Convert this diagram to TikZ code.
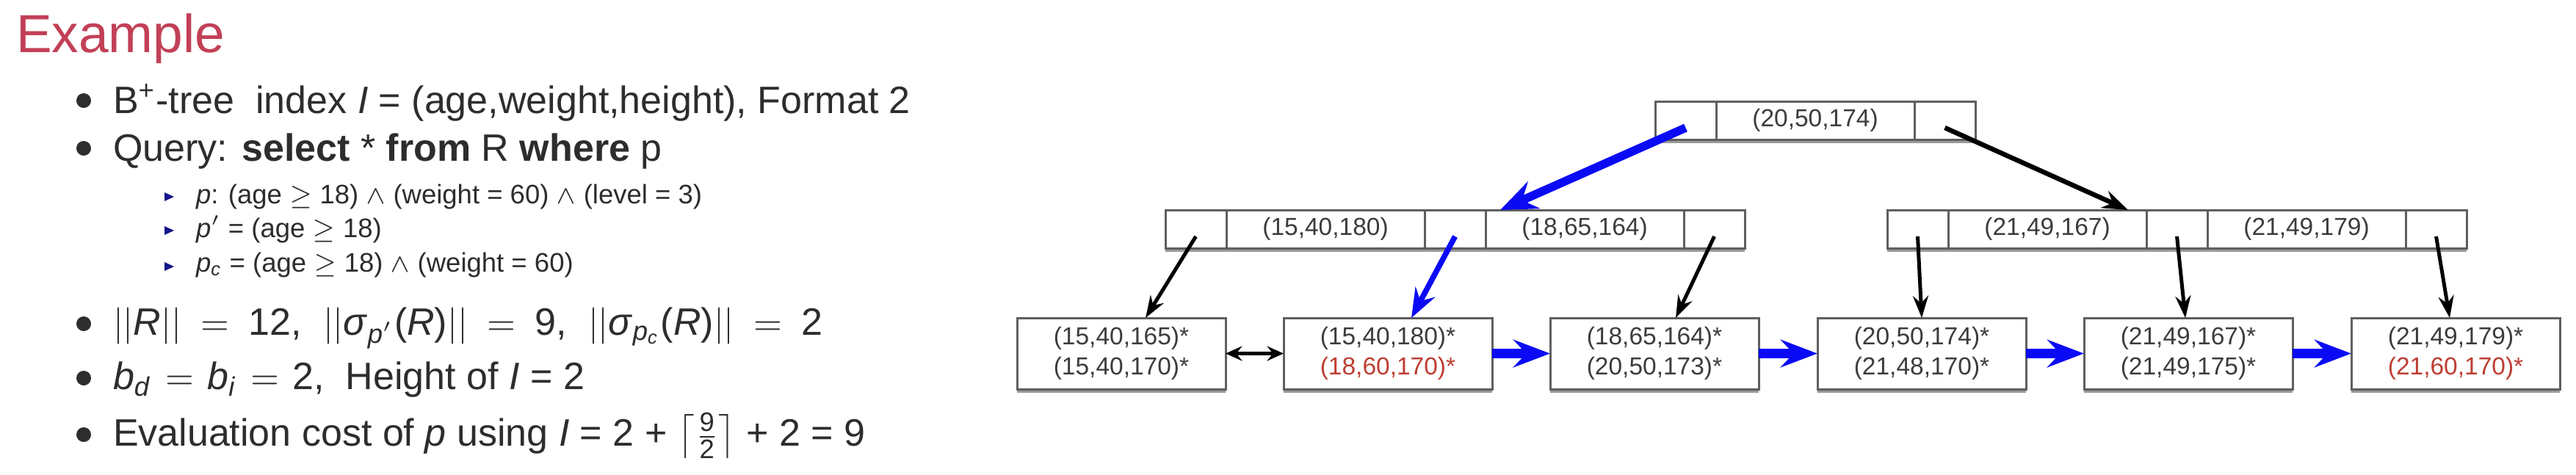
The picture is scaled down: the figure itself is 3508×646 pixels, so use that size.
\documentclass[tikz,border=0pt]{standalone}
\usepackage{fontspec}
\setmainfont{Liberation Sans}
\usepackage{amsmath}
\usetikzlibrary{arrows.meta,shadows}
\definecolor{titlered}{RGB}{194,64,86}
\definecolor{txt}{RGB}{45,45,45}
\definecolor{navy}{RGB}{20,20,140}
\definecolor{boxline}{RGB}{95,95,95}
\definecolor{keygray}{RGB}{60,60,60}
\definecolor{leafred}{RGB}{190,62,50}
\definecolor{arrowblue}{RGB}{10,10,245}
\newcommand{\eqsp}{\hspace{2.4pt}$=$\hspace{2.4pt}}
\newcommand{\eqsm}{\hspace{0.8pt}$=$\hspace{0.8pt}}
\begin{document}
\begin{tikzpicture}[x=0.2pt,y=-0.2pt,
  txtline/.style={anchor=base west, inner sep=0pt, text=txt, font=\fontsize{10.4pt}{12.5pt}\selectfont},
  subline/.style={anchor=base west, inner sep=0pt, text=txt, font=\fontsize{7.3pt}{9pt}\selectfont},
  cell/.style={draw=boxline, line width=0.6pt, minimum height=10.4pt, inner sep=0pt, outer sep=0pt, anchor=north west, text=keygray, font=\fontsize{6.7pt}{8pt}\selectfont},
  ptr/.style={cell, minimum width=16.6pt},
  key/.style={cell, minimum width=54pt},
  frame/.style={fill=white, draw=boxline, line width=0.6pt, inner sep=0pt, outer sep=0pt, anchor=north west, general shadow={shadow xshift=0pt, shadow yshift=-0.9pt, fill=black!40}},
  innerframe/.style={frame, minimum height=10.4pt},
  leaf/.style={frame, minimum width=56.8pt, minimum height=19.4pt, align=center, text=keygray, font=\fontsize{6.7pt}{8.2pt}\selectfont},
  bluetop/.style={draw=arrowblue, line width=2.3pt, -{Stealth[length=10pt,width=8pt,inset=3.5pt]}},
  bluemid/.style={draw=arrowblue, line width=1.5pt, -{Stealth[length=8pt,width=6pt,inset=2.8pt]}},
  blackmid/.style={draw=black, line width=1.3pt, -{Stealth[length=7pt,width=5pt,inset=2.4pt]}},
  blackthin/.style={draw=black, line width=1pt, -{Stealth[length=6pt,width=4.2pt,inset=2pt]}},
  bluelink/.style={draw=arrowblue, line width=2.6pt, -{Stealth[length=10pt,width=7.5pt,inset=3.5pt]}},
  dbl/.style={draw=black, line width=1pt, {Stealth[length=4.5pt,width=4pt,inset=1.6pt]}-{Stealth[length=4.5pt,width=4pt,inset=1.6pt]}}
]
\fill[white] (0,0) rectangle (3508,646);
\useasboundingbox (0,0) rectangle (3508,646);

% ---------- left text ----------
\node[anchor=base west, inner sep=0pt, text=titlered, font=\fontsize{14.6pt}{17pt}\selectfont] (title) at (21,71) {Example};

\fill[txt] (114,137) circle[radius=2pt];
\node[txtline] (b1) at (153,154) {B\textsuperscript{+}-tree\ \ index \textit{I} = (age,weight,height), Format 2};
\fill[txt] (114,202) circle[radius=2pt];
\node[txtline] (b2) at (153,219) {Query: \textbf{select} * \textbf{from} R \textbf{where} p};

\fill[navy] (224,262) -- (224,274) -- (237,268) -- cycle;
\node[subline] (s1) at (266,277) {\textit{p}: (age $\geq$ 18) $\wedge$ (weight = 60) $\wedge$ (level = 3)};
\fill[navy] (224,308) -- (224,320) -- (237,314) -- cycle;
\node[subline] (s2) at (266,323) {\textit{p}$'$ = (age $\geq$ 18)};
\fill[navy] (224,357) -- (224,369) -- (237,363) -- cycle;
\node[subline] (s3) at (266,370) {\textit{p}\textsubscript{\textit{c}} = (age $\geq$ 18) $\wedge$ (weight = 60)};

\fill[txt] (114,441) circle[radius=2pt];
\node[txtline] (b3) at (153,456) {$||$\textit{R}$||$ \eqsp{} 12,\ \ $||$\textit{σ}\textsubscript{\textit{p}$'$}(\textit{R})$||$ \eqsp{} 9,\ \ $||$\textit{σ}\textsubscript{\textit{p}\textsubscript{\textit{c}}}(\textit{R})$||$ \eqsp{} 2};
\fill[txt] (114,515) circle[radius=2pt];
\node[txtline] (b4) at (153,530) {\textit{b}\textsubscript{\textit{d}} \eqsm{} \textit{b}\textsubscript{\textit{i}} \eqsm{} 2,\ \ Height of \textit{I} = 2};
\fill[txt] (114,592) circle[radius=2pt];
\node[txtline] (b5) at (153,607) {Evaluation cost of \textit{p} using \textit{I} = 2 + $\left\lceil\frac{\text{9}}{\text{2}}\right\rceil$ + 2 = 9};

% ---------- root ----------
\node[innerframe, minimum width=87.2pt] (root) at (2254,138) {};
\node[ptr] (r0) at (2254,138) {};
\node[key] (r1) at (r0.north east) {(20,50,174)};
\node[ptr] (r2) at (r1.north east) {};

% ---------- level 2 ----------
\node[innerframe, minimum width=157.8pt] (La) at (1587,286) {};
\node[ptr] (a0) at (1587,286) {};
\node[key] (a1) at (a0.north east) {(15,40,180)};
\node[ptr] (a2) at (a1.north east) {};
\node[key] (a3) at (a2.north east) {(18,65,164)};
\node[ptr] (a4) at (a3.north east) {};

\node[innerframe, minimum width=157.8pt] (Lb) at (2570,286) {};
\node[ptr] (b0) at (2570,286) {};
\node[key] (bk1) at (b0.north east) {(21,49,167)};
\node[ptr] (b2p) at (bk1.north east) {};
\node[key] (bk3) at (b2p.north east) {(21,49,179)};
\node[ptr] (b4p) at (bk3.north east) {};

% ---------- leaves ----------
\node[leaf] (l1) at (1385,433) {(15,40,165)*\\(15,40,170)*};
\node[leaf] (l2) at (1748,433) {(15,40,180)*\\\textcolor{leafred}{(18,60,170)*}};
\node[leaf] (l3) at (2111,433) {(18,65,164)*\\(20,50,173)*};
\node[leaf] (l4) at (2475,433) {(20,50,174)*\\(21,48,170)*};
\node[leaf] (l5) at (2838,433) {(21,49,167)*\\(21,49,175)*};
\node[leaf] (l6) at (3202,433) {(21,49,179)*\\\textcolor{leafred}{(21,60,170)*}};

% ---------- pointers ----------
\draw[bluetop] ([yshift=-2pt]r0.center) -- ([xshift=4pt]a3.north west);
\draw[blackmid] ([yshift=-2pt]r2.center) -- ([xshift=-5pt]bk1.north east);
\draw[blackthin] ([yshift=-2pt]a0.center) -- ([xshift=6.6pt]l1.north);
\draw[bluemid] ([yshift=-2pt]a2.center) -- ([xshift=6.4pt]l2.north);
\draw[blackthin] ([yshift=-2pt]a4.center) -- ([xshift=5.8pt]l3.north);
\draw[blackthin] ([yshift=-2pt]b0.center) -- (l4.north);
\draw[blackthin] ([yshift=-2pt]b2p.center) -- ([xshift=-0.8pt]l5.north);
\draw[blackthin] ([yshift=-2pt]b4p.center) -- ([xshift=-1.6pt]l6.north);

% ---------- leaf links ----------
\draw[dbl] (l1.east) -- (l2.west);
\draw[bluelink] (l2.east) -- (l3.west);
\draw[bluelink] (l3.east) -- (l4.west);
\draw[bluelink] (l4.east) -- (l5.west);
\draw[bluelink] (l5.east) -- (l6.west);
\end{tikzpicture}
\end{document}
